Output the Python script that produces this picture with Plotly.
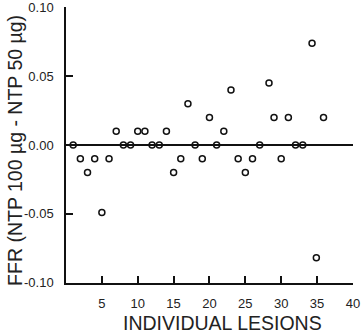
import plotly.graph_objects as go

# Data
lesion = [1, 2, 3, 4, 5, 6, 7, 8, 9, 10, 11, 12, 13, 14, 15, 16, 17, 18,
          19, 20, 21, 22, 23, 24, 25, 26, 27, 28.3, 29, 30, 31, 32, 33,
          34.3, 34.9, 35.9]
ffr_diff = [0.00, -0.01, -0.02, -0.01, -0.049, -0.01, 0.01, 0.00, 0.00,
            0.01, 0.01, 0.00, 0.00, 0.01, -0.02, -0.01, 0.03, 0.00,
            -0.01, 0.02, 0.00, 0.01, 0.04, -0.01, -0.02, -0.01, 0.00,
            0.045, 0.02, -0.01, 0.02, 0.00, 0.00, 0.074, -0.082, 0.02]

x_ticks = [5, 10, 15, 20, 25, 30, 35, 40]
y_ticks = [-0.10, -0.05, 0.00, 0.05, 0.10]
y_tick_text = ["-0.10", "-0.05", "0.00", "0.05", "0.10"]

FONT = "Liberation Sans, Arial, sans-serif"

fig = go.Figure()
fig.add_trace(go.Scatter(
    x=lesion, y=ffr_diff, mode="markers",
    marker=dict(symbol="circle-open", size=6, color="#111",
                line=dict(width=1.5, color="#111")),
    showlegend=False, cliponaxis=False,
))

fig.update_layout(
    width=362, height=335,
    margin=dict(l=66, r=9, t=7, b=52, autoexpand=False),
    paper_bgcolor="white", plot_bgcolor="white",
    font=dict(family=FONT, color="#222", size=13),
    xaxis=dict(
        range=[0, 40.01], tickvals=x_ticks, ticks="inside", ticklen=7,
        tickwidth=1.5, tickcolor="#111", showline=True, linecolor="#111",
        linewidth=1.5, showgrid=False, zeroline=False, automargin=False,
        ticklabelstandoff=8, ticklabeloverflow="allow",
        tickfont=dict(size=13, family=FONT, color="#222"),
    ),
    yaxis=dict(
        range=[-0.1003, 0.1003], tickvals=y_ticks, ticktext=y_tick_text,
        ticks="inside", ticklen=7, tickwidth=1.5, tickcolor="#111",
        showline=True, linecolor="#111", linewidth=1.5, showgrid=False,
        zeroline=True, zerolinecolor="#111", zerolinewidth=1.5,
        automargin=False,
        ticklabelstandoff=8, ticklabeloverflow="allow",
        tickfont=dict(size=13, family=FONT, color="#222"),
    ),
    annotations=[
        dict(text="INDIVIDUAL LESIONS", xref="paper", yref="paper",
             x=0.5436, y=-0.145, xanchor="center", yanchor="middle",
             showarrow=False, font=dict(size=19.5, family=FONT, color="#222")),
        dict(text="FFR (NTP 100 µg - NTP 50 µg)", xref="paper", yref="paper",
             x=-0.178, y=0.482, xanchor="center", yanchor="middle",
             textangle=-90, showarrow=False,
             font=dict(size=19.5, family=FONT, color="#222")),
    ],
)

fig.write_html("out.html")
